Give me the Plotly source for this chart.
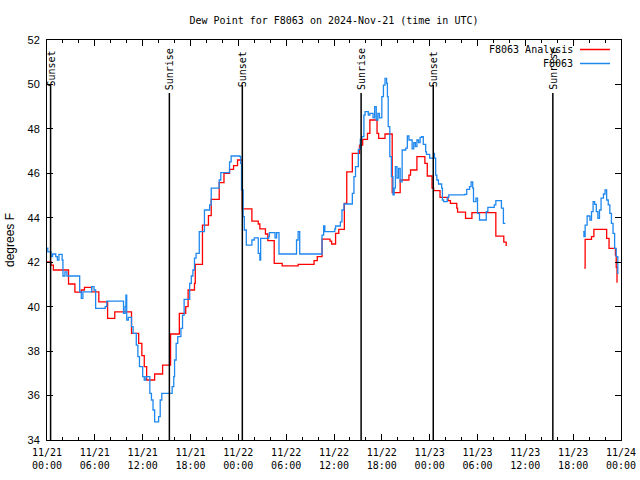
import plotly.graph_objects as go
import pandas as pd

START = pd.Timestamp("2024-11-21 00:00")

# F8063 Analysis (red) : hours since start, value (degF); None = gap
analysis_hours = [0.0, 0.5, 0.8, 2.7, 3.5, 4.3, 4.7, 5.6, 6.5, 7.6, 8.5, 10.6, 11.5, 11.9, 12.2, 12.5,
                  13.5, 14.5, 15.5, 16.6, 17.4, 17.7, 18.5, 18.6, 19.5, 20.25, 20.6, 21.6, 22.2, 22.9,
                  23.4, 23.9, 24.5, 25.7, 26.5, 26.7, 27.4, 27.7, 28.5, 29.5, 31.5, 33.5, 33.9, 34.5,
                  35.5, 35.7, 36.2, 36.6, 37.3, 37.6, 38.3, 39.2, 39.6, 40.2, 40.5, 41.4, 41.6, 42.4,
                  43.3, 44.3, 45.4, 45.6, 46.4, 47.4, 47.7, 48.3, 48.5, 49.3, 50.3, 50.6, 51.4, 51.5,
                  52.5, 53.3, 56.3, 57.3, 57.6, None,
                  67.4, 67.5, 68.3, 68.6, 70.2, 70.5, 71.3, 71.4, 71.5]
analysis_vals = [42.02, 41.87, 41.65, 41.02, 40.65, 40.75, 40.87, 40.67, 40.22, 39.47, 39.77, 38.8, 38.35,
                 37.8, 37.3, 36.7, 36.97, 37.37, 38.77, 39.7, 40.0, 40.75, 41.05, 41.9, 43.67, 44.1,
                 44.83, 45.58, 46.0, 46.18, 46.35, 46.6, 44.4, 43.85, 43.72, 43.5, 43.27, 42.97, 41.95,
                 41.84, 41.9, 42.07, 42.25, 43.04, 42.95, 42.82, 43.3, 43.48, 44.65, 46.07, 46.9, 47.27,
                 47.53, 47.8, 48.4, 47.8, 47.57, 47.77, 45.13, 45.7, 45.92, 46.15, 46.75, 46.45, 45.88,
                 45.33, 45.22, 44.92, 44.77, 44.65, 44.43, 44.25, 43.97, 44.23, 43.17, 42.9, 42.73, None,
                 41.73, 43.03, 43.15, 43.48, 43.07, 42.62, 42.32, 41.77, 41.08]

# F8063 observations (blue)
obs_hours = [0.0, 0.1, 0.5, 0.7, 1.1, 1.3, 1.5, 1.9, 2.0, 2.25, 2.5, 4.1, 4.3, 4.5, 5.6, 5.9, 6.1, 7.3,
             7.5, 9.6, 9.8, 9.9, 10.0, 10.2, 10.6, 10.8, 11.2, 11.4, 11.6, 12.0, 12.2, 12.4, 12.9, 13.1,
             13.3, 13.5, 14.0, 14.2, 14.4, 15.7, 15.9, 16.0, 16.2, 16.4, 16.8, 17.0, 17.2, 17.9, 18.1,
             18.3, 18.5, 18.7, 19.1, 19.75, 20.4, 20.6, 21.6, 21.8, 22.9, 23.1, 24.2, 24.3, 24.4, 24.6,
             24.75, 25.0, 25.7, 26.0, 26.5, 26.7, 26.8, 27.8, 27.9, 28.6, 28.8, 29.1, 31.3, 31.5, 31.7,
             34.5, 34.7, 34.85, 36.1, 36.2, 36.8, 37.0, 37.25, 38.3, 38.5, 38.7, 39.05, 39.3, 39.5,
             39.75, 39.9, 40.3, 40.5, 40.9, 41.1, 41.3, 41.5, 41.7, 42.0, 42.2, 42.4, 42.6, 42.7, 42.8,
             43.0, 43.2, 43.4, 43.55, 43.7, 43.9, 44.1, 44.3, 44.55, 45.0, 45.2, 45.4, 45.8, 46.0, 46.2,
             46.4, 46.6, 46.8, 47.0, 47.2, 47.5, 47.6, 48.0, 48.5, 48.6, 48.75, 48.9, 49.1, 49.5, 49.6,
             49.75, 50.2, 50.4, 52.4, 52.65, 53.0, 53.2, 53.4, 53.5, 53.8, 54.0, 54.25, 55.1, 55.3,
             56.1, 56.3, 57.0, 57.25, 57.5, None,
             67.25, 67.35, 67.5, 67.75, 68.1, 68.3, 68.5, 68.7, 68.9, 69.1, 69.3, 69.5, 69.8, 70.0,
             70.2, 70.4, 70.6, 70.8, 71.0, 71.2, 71.4, 71.6, 71.7]
obs_vals = [42.63, 42.47, 42.25, 42.37, 42.25, 42.1, 42.35, 42.1, 41.38, 41.57, 41.38, 40.67, 40.37,
            40.67, 40.9, 40.75, 39.92, 40.0, 40.25, 39.7, 40.0, 40.52, 39.4, 39.52, 39.1, 38.8, 38.27,
            37.75, 37.3, 36.85, 36.7, 36.85, 36.1, 35.8, 35.35, 34.82, 35.05, 35.8, 36.1, 36.4, 36.85,
            37.6, 38.35, 38.65, 39.02, 39.62, 40.33, 41.05, 41.38, 41.65, 42.18, 42.4, 43.38, 44.35,
            44.58, 45.33, 45.7, 46.03, 46.52, 46.78, 46.75, 46.45, 45.25, 44.05, 43.45, 42.77, 43.0,
            43.1, 42.4, 42.1, 43.07, 43.15, 43.33, 43.1, 43.33, 42.37, 43.0, 43.38, 42.37, 43.22, 43.63,
            43.38, 43.5, 43.63, 43.82, 44.35, 44.62, 45.1, 45.85, 46.3, 47.08, 47.53, 47.65, 48.62,
            48.78, 48.62, 48.7, 48.5, 49.0, 48.4, 48.7, 48.5, 49.45, 49.97, 50.27, 50.05, 49.45, 48.1,
            46.75, 45.85, 45.03, 45.33, 46.3, 45.78, 46.22, 45.62, 47.05, 47.13, 47.68, 47.5, 47.1,
            47.38, 47.2, 47.5, 47.38, 47.62, 47.65, 47.3, 46.97, 46.85, 46.68, 46.9, 46.68, 45.92, 45.7,
            45.52, 45.33, 44.8, 44.73, 44.92, 45.03, 45.05, 45.28, 45.4, 45.62, 45.33, 44.73, 44.88,
            44.2, 43.9, 44.28, 44.47, 44.58, 44.77, 44.43, 43.75, 43.75, None,
            43.38, 43.15, 43.67, 44.08, 43.9, 44.28, 44.73, 44.6, 44.28, 43.97, 44.35, 44.88, 45.07,
            45.25, 44.8, 44.58, 44.2, 43.75, 43.3, 42.62, 42.25, 41.5, 41.5]

# Sun events (hours since start)
sun_hours = [0.45, 15.35, 24.5, 39.4, 48.45, 63.45]
sun_labels = ["Sunset", "Sunrise", "Sunset", "Sunrise", "Sunset", "Sunrise"]

series_names = ["F8063 Analysis", "F8063"]
series_colors = ["#ff0000", "#1e88ee"]

TITLE = "Dew Point for F8063 on 2024-Nov-21 (time in UTC)"
Y_LABEL = "degrees F"


def to_time(hours):
    return [None if h is None else START + pd.Timedelta(hours=h) for h in hours]


MONO = "DejaVu Sans Mono"
SANS = "Liberation Sans"

fig = go.Figure()
fig.add_trace(go.Scatter(x=to_time(analysis_hours), y=analysis_vals, mode="lines",
                         line=dict(color=series_colors[0], width=1.3, shape="hv"),
                         name=series_names[0], connectgaps=False, showlegend=False))
fig.add_trace(go.Scatter(x=to_time(obs_hours), y=obs_vals, mode="lines",
                         line=dict(color=series_colors[1], width=1.3, shape="hv"),
                         name=series_names[1], connectgaps=False, showlegend=False))

L, R, T, B = 47, 19, 40, 40
W, H = 640, 480
pw, ph = W - L - R, H - T - B


def px_x(px):
    return (px - L) / pw


def px_y(py):
    return (H - B - py) / ph


shapes = []
annotations = []
for h, lab in zip(sun_hours, sun_labels):
    t = START + pd.Timedelta(hours=h)
    top = 85 if lab == "Sunset" else 93
    shapes.append(dict(type="line", xref="x", yref="paper", x0=t, x1=t, y0=0, y1=px_y(top),
                       line=dict(color="black", width=1.5)))
    annotations.append(dict(x=t, xref="x", y=px_y(69), yref="paper", text=lab, showarrow=False,
                            textangle=-90, font=dict(family=MONO, size=10, color="black"),
                            xanchor="center", yanchor="middle"))

# legend (gnuplot style: text right-aligned, sample line to the right)
for i, (nm, col) in enumerate(zip(series_names, series_colors)):
    ypx = 49.5 + i * 14
    annotations.append(dict(x=px_x(575), xref="paper", y=px_y(ypx), yref="paper", text=nm,
                            showarrow=False, xanchor="right", yanchor="middle",
                            font=dict(family=MONO, size=10, color="black")))
    shapes.append(dict(type="line", xref="paper", yref="paper", x0=px_x(580), x1=px_x(610),
                       y0=px_y(ypx), y1=px_y(ypx), line=dict(color=col, width=1.5)))

annotations.append(dict(x=px_x(10), xref="paper", y=px_y(240), yref="paper", text=Y_LABEL,
                        showarrow=False, textangle=-90, xanchor="center", yanchor="middle",
                        font=dict(family=SANS, size=12, color="black")))

fig.update_layout(
    width=W, height=H,
    margin=dict(l=L, r=R, t=T, b=B, pad=0, autoexpand=False),
    paper_bgcolor="white", plot_bgcolor="white",
    title=dict(text=TITLE, x=px_x(334), xref="paper", xanchor="center", y=1 - 20 / H, yanchor="middle",
               font=dict(family=MONO, size=10, color="black")),
    shapes=shapes, annotations=annotations,
    showlegend=False,
)
fig.update_xaxes(
    type="date", automargin=False,
    range=[START, START + pd.Timedelta(hours=72)],
    dtick=6 * 3600 * 1000, tick0=START,
    tickformat="%m/%d<br>%H:%M",
    ticks="inside", ticklen=6, tickwidth=1, tickcolor="black",
    minor=dict(dtick=2 * 3600 * 1000, ticks="inside", ticklen=3, tickcolor="black", tickwidth=1),
    showline=True, linecolor="black", linewidth=1, mirror="ticks",
    showgrid=False, zeroline=False,
    ticklabelstandoff=3,
    tickfont=dict(family=MONO, size=10, color="black"),
)
fig.update_yaxes(
    automargin=False,
    range=[34, 52], dtick=2, tick0=34,
    ticks="inside", ticklen=6, tickwidth=1, tickcolor="black",
    showline=True, linecolor="black", linewidth=1, mirror="ticks",
    showgrid=False, zeroline=False,
    ticklabelstandoff=4,
    tickfont=dict(family=SANS, size=11, color="black"),
)

fig.write_html("out.html", config={"displayModeBar": False},
               post_script="document.body.style.margin='0';")
